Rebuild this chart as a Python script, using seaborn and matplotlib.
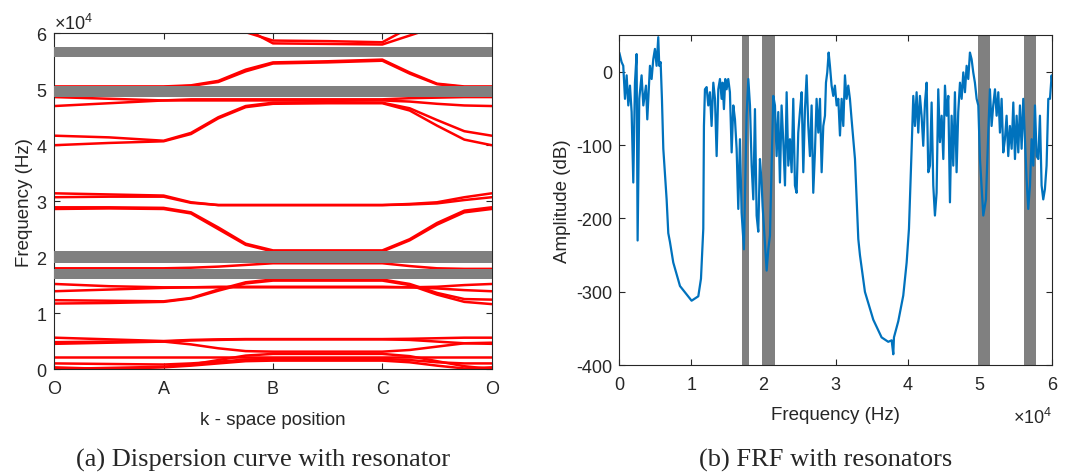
import numpy as np
import pandas as pd
import matplotlib
matplotlib.use("Agg")
import matplotlib.pyplot as plt
import seaborn as sns
from matplotlib.ticker import ScalarFormatter

# ------------------------------------------
# data
# ------------------------------------------

# k-space path positions (O=0, A=1, B=2, C=3, O=4)
k_pos = [0, 0.5, 1, 1.25, 1.5, 1.75, 2, 2.5, 3, 3.25, 3.5, 3.75, 4]
k_labels = ['O', 'A', 'B', 'C', 'O']

# dispersion branches, frequency in 1e4 Hz at each k_pos
low_branches = [
    [0.56, 0.53, 0.50, 0.52, 0.53, 0.535, 0.535, 0.535, 0.535, 0.54, 0.55, 0.56, 0.56],
    [0.48, 0.49, 0.49, 0.44, 0.37, 0.32, 0.31, 0.31, 0.31, 0.34, 0.40, 0.46, 0.47],
    [0.45, 0.47, 0.49, 0.51, 0.52, 0.53, 0.53, 0.53, 0.53, 0.52, 0.49, 0.46, 0.45],
    [0.22, 0.22, 0.22, 0.22, 0.22, 0.22, 0.22, 0.22, 0.22, 0.22, 0.22, 0.22, 0.22],
    [0.10, 0.09, 0.08, 0.10, 0.13, 0.17, 0.18, 0.18, 0.18, 0.16, 0.12, 0.10, 0.10],
    [0.03, 0.00, 0.03, 0.06, 0.10, 0.14, 0.15, 0.15, 0.15, 0.12, 0.06, 0.01, 0.03],
    [0.00, 0.02, 0.04, 0.08, 0.16, 0.24, 0.27, 0.27, 0.27, 0.23, 0.14, 0.05, 0.00],
]
mid_branches = [
    [1.17, 1.18, 1.20, 1.26, 1.40, 1.53, 1.58, 1.58, 1.58, 1.50, 1.33, 1.20, 1.16],
    [1.23, 1.22, 1.21, 1.27, 1.42, 1.55, 1.60, 1.60, 1.60, 1.52, 1.36, 1.25, 1.24],
    [1.52, 1.48, 1.46, 1.46, 1.46, 1.46, 1.46, 1.46, 1.46, 1.46, 1.47, 1.50, 1.52],
    [1.39, 1.42, 1.45, 1.46, 1.47, 1.47, 1.47, 1.47, 1.47, 1.46, 1.44, 1.41, 1.39],
    [1.80, 1.80, 1.80, 1.81, 1.83, 1.86, 1.89, 1.89, 1.89, 1.84, 1.80, 1.79, 1.79],
    [2.86, 2.87, 2.86, 2.78, 2.50, 2.22, 2.10, 2.10, 2.10, 2.30, 2.58, 2.80, 2.86],
    [2.89, 2.89, 2.88, 2.80, 2.53, 2.24, 2.12, 2.12, 2.12, 2.32, 2.61, 2.83, 2.89],
    [3.14, 3.12, 3.10, 2.98, 2.93, 2.93, 2.93, 2.93, 2.93, 2.95, 2.98, 3.07, 3.14],
    [3.07, 3.08, 3.08, 2.97, 2.93, 2.93, 2.93, 2.93, 2.93, 2.94, 2.96, 3.02, 3.07],
]
high_branches = [
    [4.00, 4.04, 4.07, 4.20, 4.48, 4.68, 4.74, 4.75, 4.75, 4.62, 4.35, 4.10, 4.00],
    [4.17, 4.14, 4.08, 4.22, 4.50, 4.70, 4.76, 4.77, 4.76, 4.66, 4.45, 4.25, 4.17],
    [4.70, 4.75, 4.80, 4.80, 4.80, 4.80, 4.80, 4.80, 4.80, 4.78, 4.74, 4.71, 4.70],
    [4.86, 4.83, 4.80, 4.82, 4.82, 4.82, 4.82, 4.82, 4.82, 4.84, 4.85, 4.86, 4.86],
    [5.05, 5.05, 5.05, 5.07, 5.15, 5.35, 5.48, 5.50, 5.53, 5.30, 5.10, 5.05, 5.05],
    [5.04, 5.04, 5.04, 5.06, 5.13, 5.32, 5.46, 5.48, 5.51, 5.28, 5.09, 5.04, 5.04],
    [np.nan, np.nan, np.nan, np.nan, 6.60, 6.02, 5.87, 5.86, 5.84, 6.10, 6.40, np.nan, np.nan],
    [np.nan, np.nan, np.nan, np.nan, 6.50, 6.08, 5.82, 5.81, 5.80, 5.96, 6.12, np.nan, np.nan],
]

# band gaps (1e4 Hz) as drawn in each panel
gap_lo_left = [5.577, 4.866, 1.893, 1.607]
gap_hi_left = [5.755, 5.051, 2.108, 1.786]
gap_lo_right = [1.696, 1.981, 4.966, 5.608]
gap_hi_right = [1.801, 2.157, 5.137, 5.774]

# FRF: frequency (kHz) and amplitude (dB)
frf_khz = [
    0.0, 0.32, 0.55, 0.79, 1.02, 1.25, 1.48, 1.71, 1.94, 2.17, 2.40, 2.54, 2.77,
    3.09, 3.33, 3.70, 3.88, 4.25, 4.48, 4.71, 4.94, 5.17, 5.40, 5.54, 5.73, 5.91,
    6.10, 6.56, 6.79, 7.02, 7.48, 8.41, 10.02, 10.95, 11.32, 11.64, 11.73, 11.87,
    12.10, 12.33, 12.56, 12.79, 13.03, 13.26, 13.49, 13.72, 13.95, 14.18, 14.32,
    14.50, 14.69, 14.87, 15.10, 15.33, 15.57, 15.80, 16.03, 16.26, 16.49, 16.72,
    16.95, 17.27, 17.64, 17.88, 18.11, 18.34, 18.57, 18.80, 19.03, 19.26, 19.49,
    19.72, 19.86, 20.42, 20.65, 20.88, 21.11, 21.34, 21.57, 21.80, 22.03, 22.26,
    22.49, 22.73, 22.96, 23.19, 23.42, 23.65, 23.88, 24.11, 24.34, 24.57, 24.80,
    25.03, 25.27, 25.50, 25.73, 25.96, 26.19, 26.42, 26.65, 26.88, 27.11, 27.34,
    27.58, 27.81, 28.04, 28.27, 28.50, 28.64, 28.82, 29.01, 29.19, 29.42, 29.65,
    29.88, 30.12, 30.35, 30.58, 30.81, 31.04, 31.27, 31.50, 31.73, 31.96, 32.19,
    32.66, 33.12, 33.35, 34.04, 35.20, 36.35, 37.27, 37.74, 37.97, 38.06, 38.66,
    39.35, 39.82, 40.14, 40.28, 40.51, 40.74, 40.97, 41.20, 41.43, 41.66, 41.89,
    42.12, 42.36, 42.59, 42.82, 43.05, 43.28, 43.51, 43.74, 43.97, 44.20, 44.43,
    44.67, 44.90, 45.13, 45.36, 45.59, 45.82, 46.05, 46.28, 46.51, 46.74, 46.97,
    47.21, 47.44, 47.67, 47.90, 48.13, 48.36, 48.59, 48.82, 49.05, 49.28, 49.52,
    49.75, 49.98, 50.44, 50.81, 51.13, 51.36, 51.59, 51.82, 52.06, 52.29, 52.52,
    52.75, 52.98, 53.21, 53.44, 53.67, 53.90, 54.13, 54.37, 54.60, 54.83, 55.06,
    55.29, 55.52, 55.75, 55.98, 56.21, 56.44, 56.67, 56.91, 57.14, 57.37, 57.60,
    57.83, 58.06, 58.29, 58.52, 58.75, 58.98, 59.21, 59.45, 59.68, 59.91, 60.00,
]
frf_db = [
    26, 13, 8, -37, -5, -46, -19, -55, -151, -15, 24, -230, -37,
    -5, -46, -19, -65, 8, -10, 17, 31, 8, 47, 8, 13, -37,
    -105, -174, -220, -232, -260, -292, -312, -306, -282, -214, -74, -24,
    -21, -46, -28, -74, -15, -37, -115, -24, -10, -37, -15,
    -51, -10, -24, -10, -28, -110, -46, -65, -105, -187, -92,
    -192, -242, -60, -10, -46, -128, -174, -51, -196, -218, -119,
    -151, -183, -271, -242, -223, -128, -33, -46, -115, -55, -151,
    -46, -96, -155, -28, -128, -92, -137, -37, -155, -165, -83,
    -55, -28, -137, -51, -5, -74, -115, -46, -165, -110, -37,
    -83, -37, -137, -74, -60, -15, -1, 26, 8, -19, -33,
    -19, -46, -37, -87, -37, -74, -5, -37, -19, -37, -65,
    -119, -228, -250, -300, -338, -362, -368, -366, -385, -362, -340,
    -305, -260, -214, -174, -105, -33, -74, -28, -83, -33, -60,
    -101, -42, -15, -137, -128, -42, -155, -196, -165, -24, -96,
    -60, -119, -19, -60, -33, -178, -60, -128, -28, -137, -55,
    -15, -37, -1, -28, 8, -10, 26, 17, -1, -15, -37,
    -46, -119, -196, -174, -83, -24, -74, -46, -24, -60, -28,
    -83, -37, -110, -92, -60, -115, -74, -105, -42, -119, -60,
    -110, -46, -105, -37, -92, -146, -187, -155, -92, -128, -46,
    -115, -119, -60, -155, -174, -160, -128, -37, -37, -5, -15,
]

# ------------------------------------------
# style
# ------------------------------------------

sns.set_style("ticks")
plt.rcParams['font.family'] = ['Liberation Sans', 'DejaVu Sans']
plt.rcParams['mathtext.fontset'] = 'custom'
plt.rcParams['mathtext.rm'] = 'Liberation Sans'
plt.rcParams['axes.unicode_minus'] = False
plt.rcParams['axes.edgecolor'] = '#262626'
plt.rcParams['axes.linewidth'] = 0.8

ink = '#262626'
band_grey = '#808080'

fig = plt.figure(figsize=(10.67, 4.77), dpi=100)
ax1 = fig.add_axes([0.0509, 0.2243, 0.4099, 0.7038])
ax2 = fig.add_axes([0.5804, 0.2321, 0.4058, 0.6925])

# ------------------------------------------
# (a) dispersion curve
# ------------------------------------------

rows = []
for gname, group in [('low', low_branches), ('mid', mid_branches), ('high', high_branches)]:
    for i, vals in enumerate(group):
        for k, v in zip(k_pos, vals):
            rows.append({'k': k, 'freq': v * 1e4, 'branch': f"{gname}{i}"})
disp = pd.DataFrame(rows).dropna()

sns.lineplot(
    data=disp,
    x='k',
    y='freq',
    units='branch',
    estimator=None,
    color='red',
    lw=1.8,
    legend=False,
    ax=ax1
)

for lo, hi in zip(gap_lo_left, gap_hi_left):
    ax1.axhspan(lo * 1e4, hi * 1e4, color=band_grey, lw=0, zorder=3)

ax1.set_xlim(0, 4)
ax1.set_ylim(0, 6e4)
ax1.set_xticks(range(5))
ax1.set_xticklabels(k_labels)
ax1.set_yticks(np.arange(0, 6.01e4, 1e4))
fmt1 = ScalarFormatter(useMathText=True)
fmt1.set_powerlimits((0, 0))
ax1.yaxis.set_major_formatter(fmt1)
ax1.set_xlabel("k - space position", fontsize=13.5, color=ink, labelpad=10)
ax1.set_ylabel("Frequency (Hz)", fontsize=13.5, color=ink, labelpad=2)

# ------------------------------------------
# (b) FRF
# ------------------------------------------

for lo, hi in zip(gap_lo_right, gap_hi_right):
    ax2.axvspan(lo * 1e4, hi * 1e4, color=band_grey, lw=0, zorder=1)

sns.lineplot(
    x=np.array(frf_khz) * 1e3,
    y=frf_db,
    estimator=None,
    sort=False,
    color='#0072BD',
    lw=1.6,
    ax=ax2,
    zorder=2
)

ax2.set_xlim(0, 6e4)
ax2.set_ylim(-400, 50)
ax2.set_xticks(np.arange(0, 6.01e4, 1e4))
ax2.set_yticks(np.arange(-400, 1, 100))
fmt2 = ScalarFormatter(useMathText=True)
fmt2.set_powerlimits((0, 0))
ax2.xaxis.set_major_formatter(fmt2)
ax2.xaxis.get_offset_text().set_visible(False)
ax2.text(1.0, -0.155, r"$\times\mathdefault{10^{4}}$", transform=ax2.transAxes,
         ha='right', va='center', fontsize=13, color=ink)
ax2.set_xlabel("Frequency (Hz)", fontsize=13.5, color=ink, labelpad=9)
ax2.set_ylabel("Amplitude (dB)", fontsize=13.5, color=ink, labelpad=4)

for ax in (ax1, ax2):
    ax.tick_params(direction='in', length=4, width=0.8, colors=ink,
                   labelsize=13, top=True, right=True)
    ax.tick_params(axis='x', pad=8)
    ax.tick_params(axis='y', pad=5)
    for s in ax.spines.values():
        s.set_visible(True)
        s.set_color(ink)
        s.set_linewidth(0.8)
    ax.yaxis.get_offset_text().set_fontsize(13)
    ax.yaxis.get_offset_text().set_color(ink)

# ------------------------------------------
# captions
# ------------------------------------------

fig.text(263 / 1067, 1 - 460 / 477, "(a) Dispersion curve with resonator",
         ha='center', va='center', family='Liberation Serif', fontsize=19)
fig.text(826 / 1067, 1 - 460 / 477, "(b) FRF with resonators",
         ha='center', va='center', family='Liberation Serif', fontsize=19)

fig.savefig("out.png", dpi=100)
